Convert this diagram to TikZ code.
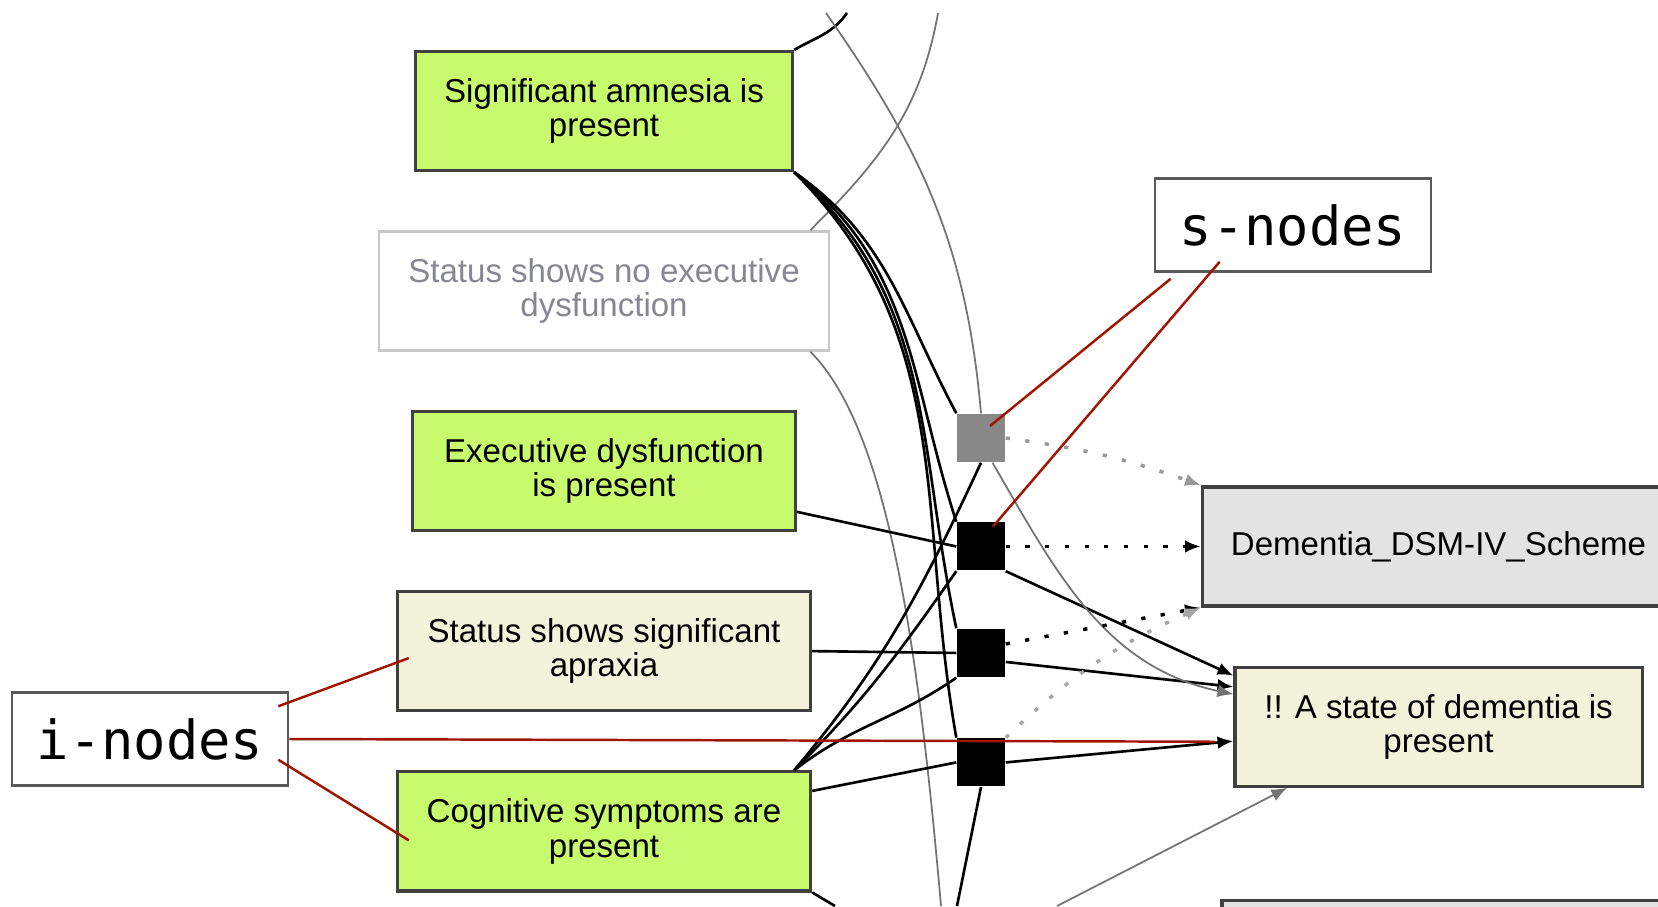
\documentclass[tikz,border=0pt]{standalone}
\usepackage{fontspec}
\setmainfont{Liberation Sans}
\newfontfamily\tagfont{DejaVu Sans Mono}
\usepackage{xcolor}
\definecolor{premisegreen}{RGB}{200,250,110}
\definecolor{claimbeige}{RGB}{243,243,220}
\definecolor{schemegray}{RGB}{227,227,227}
\definecolor{snodegray}{RGB}{136,136,136}
\definecolor{fadetext}{RGB}{135,135,145}
\definecolor{notered}{RGB}{160,20,0}
\usetikzlibrary{arrows.meta, positioning, calc}

\begin{document}
\begin{tikzpicture}[
        x=0.01cm, y=0.01cm,
        node distance=0.58cm,
        ibox/.style={rectangle, draw=black!75, line width=0.9pt, fill=premisegreen,
                    minimum height=1.19cm, align=center, inner sep=2pt,
                    font=\fontsize{9.4}{9.8}\selectfont},
        claimbox/.style={ibox, fill=claimbeige},
        fadebox/.style={ibox, draw=black!22, line width=0.7pt, fill=white, text=fadetext},
        schemebox/.style={ibox, fill=schemegray},
        snode/.style={rectangle, fill=black, minimum size=0.48cm, inner sep=0pt},
        tagbox/.style={rectangle, draw=black!65, line width=0.7pt, fill=white,
                    minimum width=2.76cm, minimum height=0.93cm,
                    font=\tagfont\fontsize{15.3}{16}\selectfont},
        link/.style={black, line width=0.75pt},
        faint/.style={black!55, line width=0.5pt},
        arrow/.style={-{Latex[length=4.5pt, width=3.6pt]}},
        dotlink/.style={arrow, line width=1pt, dash pattern=on 1.2pt off 4.4pt},
        callout/.style={notered, line width=0.7pt}
    ]
        \clip (0,0) rectangle (1658,-906);

        % i-nodes
        \node[ibox, minimum width=3.77cm] (amn) at (604,-111) {Significant amnesia is\\present};
        \node[fadebox, minimum width=4.5cm, below=of amn] (noexec) {Status shows no executive\\dysfunction};
        \node[ibox, minimum width=3.82cm, below=of noexec] (exec) {Executive dysfunction\\is present};
        \node[claimbox, minimum width=4.13cm, below=of exec] (aprax) {Status shows significant\\apraxia};
        \node[ibox, minimum width=4.13cm, below=of aprax] (cogn) {Cognitive symptoms are\\present};

        % s-nodes
        \node[snode, fill=snodegray] (sg) at (981,-438) {};
        \node[snode, below=0.59cm of sg] (s1) {};
        \node[snode, below=0.57cm of s1] (s2) {};
        \node[snode, below=0.6cm of s2] (s3) {};

        % Conclusions
        \node[schemebox, minimum width=4.72cm, right=1.95cm of s1] (scheme) {Dementia\_DSM-IV\_Scheme};
        \node[claimbox, minimum width=4.07cm, below=of scheme] (state) {!! A state of dementia is\\present};
        \node[schemebox, minimum width=4.72cm, anchor=north west] (other) at ([xshift=-0.13cm, yshift=-1.11cm]state.south west) {};

        % Labels
        \node[tagbox] (snodes) at (1293,-225) {s-nodes};
        \node[tagbox] (inodes) at (150,-739) {i-nodes};

        % Free ends at the edges
        \coordinate (topA) at (847,-13);
        \coordinate (topB) at (826,-13);
        \coordinate (topC) at (938,-13);
        \coordinate (botE) at (941,-906);
        \coordinate (botS) at (957,-906);
        \coordinate (botT) at (835,-906);
        \coordinate (botR) at (1057,-906);

        % Lines into the s-nodes
        \draw[link] (amn.north east) to[out=30, in=-125] (topA);
        \draw[faint] (topB) to[out=-55, in=95] (sg.north);
        \draw[faint] (topC) to[out=-100, in=45] ([xshift=-0.2cm]noexec.north east);
        \draw[faint] ([xshift=-0.2cm]noexec.south east) .. controls +(-45:110) and +(95:260) .. (botE);
        \draw[link] (amn.south east) to[out=-35, in=118] (sg.north west);
        \draw[link] (amn.south east) to[out=-38, in=108] (s1.north west);
        \draw[link] (amn.south east) to[out=-42, in=102] (s2.north west);
        \draw[link] (amn.south east) to[out=-45, in=100] (s3.north west);
        \draw[link] (exec.-12) -- (s1.west);
        \draw[link] (aprax.east) -- (s2.west);
        \draw[link] (cogn.11) -- (s3.west);
        \draw[link] ([xshift=-0.18cm]cogn.north east) to[out=38, in=-145] (s2.south west);
        \draw[link] ([xshift=-0.18cm]cogn.north east) to[out=45, in=-125] (s1.south west);
        \draw[link] ([xshift=-0.18cm]cogn.north east) to[out=50, in=-115] (sg.south);
        \draw[link] (s3.south) -- (botS);
        \draw[link] (cogn.south east) -- (botT);

        % Arrows to the conclusion
        \draw[link, arrow] (s1.south east) -- (state.166);
        \draw[link, arrow] (s2.-20) -- (state.169);
        \draw[link, arrow] (s3.east) -- (state.184);
        \draw[faint, arrow] (sg.-65) to[out=-60, in=168] (state.171);
        \draw[faint, arrow] (botR) -- (state.202);

        % Arrows to the scheme
        \draw[dotlink, black!40] (sg.east) to[bend left=6] (scheme.north west);
        \draw[dotlink] (s1.east) -- (scheme.west);
        \draw[dotlink] (s2.20) -- (scheme.south west);
        \draw[dotlink, black!35] (s3.north east) to[bend left=10] (scheme.south west);

        % Callouts
        \draw[callout] ($(snodes.south west)+(17,-6)$) -- ($(sg.center)+(9,12)$);
        \draw[callout] ($(snodes.south west)+(66,11)$) -- ($(s1.center)+(12,20)$);
        \draw[callout] ($(inodes.north east)+(-11,-15)$) -- ($(aprax.west)+(13,-7)$);
        \draw[callout] (inodes.east) -- ($(state.west)+(-18,-15)$);
        \draw[callout] ($(inodes.south east)+(-11,27)$) -- ($(cogn.west)+(13,-9)$);
    \end{tikzpicture}
\end{document}
